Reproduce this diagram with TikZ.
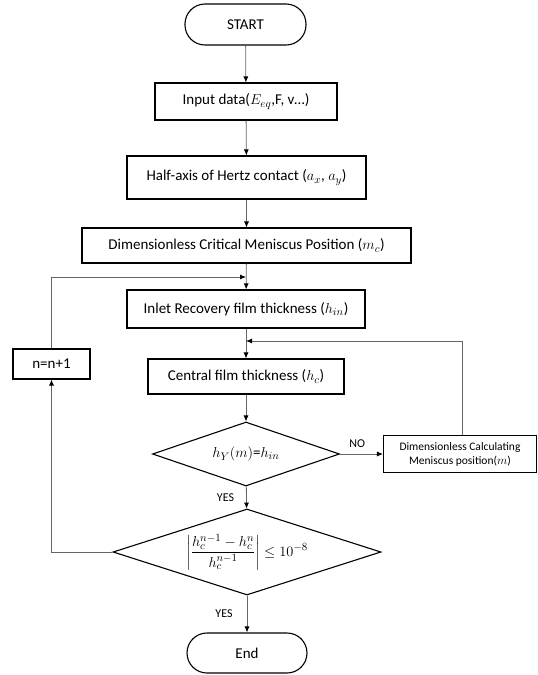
\documentclass[tikz,border=0pt]{standalone}
\usepackage{amsmath}
\usepackage{fontspec}
\setmainfont{Carlito}
\usetikzlibrary{arrows.meta,shapes.geometric}
\tikzset{
  box/.style={draw=black, line width=1.1pt, inner sep=0pt, align=center, font=\fontsize{15}{17}\selectfont},
  term/.style={box, rounded corners=20pt},
  dec/.style={diamond, draw=black, line width=1.1pt, inner sep=0pt, font=\fontsize{15}{17}\selectfont},
  conn/.style={draw=black!60, line width=0.8pt, -{Latex[length=6pt,width=5pt,color=black]}},
  lbl/.style={font=\fontsize{12}{14}\selectfont, inner sep=0pt}
}
\begin{document}
\begin{tikzpicture}[x=1pt,y=-1pt]
\useasboundingbox (0,0) rectangle (538,675);
\node[term, minimum width=121pt, minimum height=41pt] (start) at (245.5,24.5) {START};
\node[box, minimum width=182pt, minimum height=37pt] (input) at (246,101.5) {Input data($E_{eq}$,F, v\ldots)};
\node[box, minimum width=239pt, minimum height=43pt] (half) at (246.5,177.5) {Half-axis of Hertz contact ($a_x$, $a_y$)};
\node[box, minimum width=329pt, minimum height=35pt] (crit) at (246.5,245.5) {Dimensionless Critical Meniscus Position ($m_c$)};
\node[box, minimum width=238pt, minimum height=38pt] (inlet) at (246,309) {Inlet Recovery film thickness ($h_{in}$)};
\node[box, minimum width=196pt, minimum height=35pt] (central) at (246,376.5) {Central film thickness ($h_c$)};
\node[dec, shape aspect=2.9, minimum width=187pt, minimum height=64pt] (d1) at (246,454) {$h_Y(m)$=$h_{in}$};
\node[dec, shape aspect=3.4, minimum width=268pt, minimum height=86pt] (d2) at (247,552) {$\left|\displaystyle\frac{h_c^{n-1}-h_c^{n}}{h_c^{n-1}}\right|\le 10^{-8}$};
\node[term, minimum width=120pt, minimum height=40pt] (end) at (247,653) {End};
\node[box, minimum width=77pt, minimum height=30pt] (inc) at (51.5,364) {n=n+1};
\node[box, minimum width=153pt, minimum height=37pt, font=\fontsize{11.5}{14}\selectfont] (calc) at (460,454) {Dimensionless Calculating\\Meniscus position($m$)};

\coordinate (j1) at (246,341);
\coordinate (j2) at (246,277);

\draw[conn] (start) -- (input);
\draw[conn] (input) -- (half);
\draw[conn] (half) -- (crit);
\draw[conn] (crit) -- (inlet);
\draw[conn] (inlet) -- (central);
\draw[conn] (central) -- (d1);
\draw[conn] (d1) -- node[lbl, left=12pt, pos=0.5] {YES} (d2);
\draw[conn] (d2) -- node[lbl, left=14pt, pos=0.5] {YES} (end);
\draw[conn] (d1.east) -- node[lbl, above=6pt, pos=0.4] {NO} (calc.west);
\draw[conn] (calc.north -| 462,0) |- (j1);
\draw[conn] (d2.west) -| (inc.south);
\draw[conn] (inc.north) |- (j2);
\end{tikzpicture}
\end{document}
